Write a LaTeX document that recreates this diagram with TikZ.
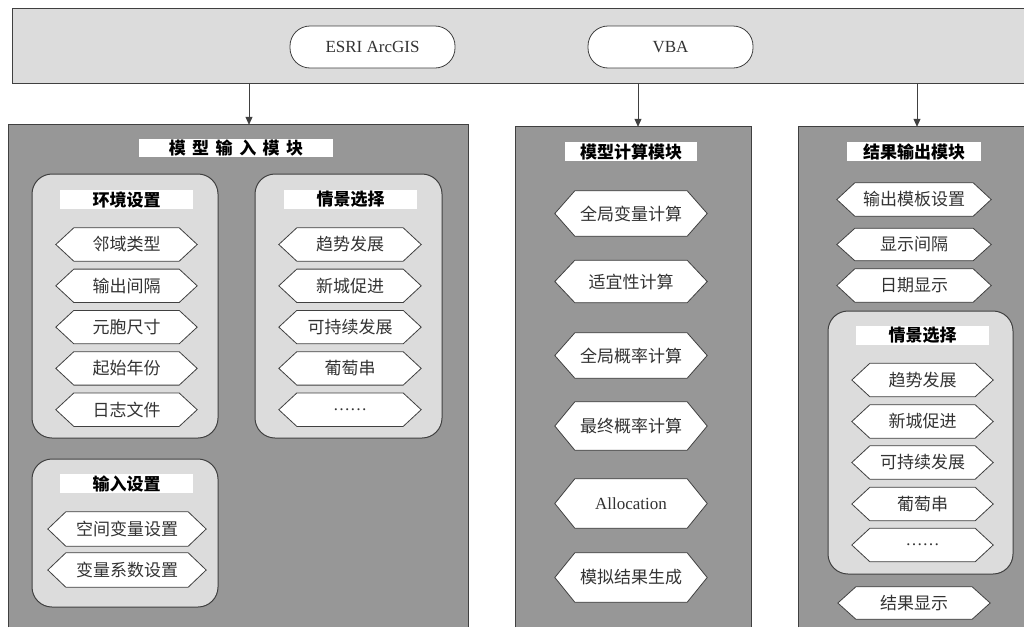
\documentclass[tikz,border=0pt]{standalone}
\usepackage{fontspec}
\setmainfont{Liberation Serif}
\newfontfamily\cjk{Noto Sans CJK SC}
\usetikzlibrary{arrows.meta}
\pgfdeclarelayer{back}
\pgfdeclarelayer{mid}
\pgfsetlayers{back,mid,main}
\definecolor{lightbg}{HTML}{DCDCDC}
\definecolor{panelbg}{HTML}{979797}
\definecolor{edge}{HTML}{404040}
\definecolor{txt}{HTML}{333333}
\tikzset{
 topbar/.style={fill=lightbg, inner sep=0},
 pill/.style={draw=edge, fill=white, rounded corners=20pt, line width=0.8pt, inner sep=0, minimum width=165pt, minimum height=42pt, font=\fontsize{17}{20}\selectfont, text=txt},
 panel/.style={fill=panelbg, inner sep=0},
 border/.style={draw=edge, line width=1pt},
 group/.style={draw=edge, fill=lightbg, rounded corners=20pt, line width=1pt, inner sep=0},
 title/.style={fill=white, inner sep=0, font=\cjk\bfseries\fontsize{17}{20}\selectfont, text=black},
 hextext/.style={inner sep=0, text=txt, font=\cjk\fontsize{17}{20}\selectfont},
 hexline/.style={draw=edge, fill=white, line width=0.8pt},
 arr/.style={draw=edge, line width=0.8pt, -{Triangle[length=8pt,width=7pt]}},
}
\newcommand\hexnode[7]{%
 \node[hextext, minimum width=#4pt, minimum height=#5pt] (#1) at (#2,#3) {#7};
 \begin{pgfonlayer}{mid}
 \path[hexline] (#1.north west) -- (#1.north east) -- ([xshift=#6pt]#1.east) -- (#1.south east) -- (#1.south west) -- ([xshift=-#6pt]#1.west) -- cycle;
 \end{pgfonlayer}}
\newcommand\lat[1]{{\rmfamily #1}}
\begin{document}
\begin{tikzpicture}[x=1pt,y=-1pt]
\useasboundingbox (0,0) rectangle (1024,627);
\begin{pgfonlayer}{back}
 \node[topbar, minimum width=1011pt, minimum height=74pt] (topbar) at (518.5,46) {};
 \path[border] (topbar.south east) -- (topbar.south west) -- (topbar.north west) -- (topbar.north east);
 \node[panel, minimum width=459pt, minimum height=502pt] (inpanel) at (238.5,376) {};
 \path[border] (inpanel.south west) -- (inpanel.north west) -- (inpanel.north east) -- (inpanel.south east);
 \node[panel, minimum width=235pt, minimum height=500pt] (calcpanel) at (633.5,377) {};
 \path[border] (calcpanel.south west) -- (calcpanel.north west) -- (calcpanel.north east) -- (calcpanel.south east);
 \node[panel, minimum width=225pt, minimum height=500pt] (outpanel) at (911.5,377) {};
 \path[border] (outpanel.south west) -- (outpanel.north west) -- (outpanel.north east);
 \node[group, minimum width=186pt, minimum height=264pt] (envgrp) at (125,306) {};
 \node[group, minimum width=187pt, minimum height=264pt] (scenLgrp) at (348.5,306) {};
 \node[group, minimum width=186pt, minimum height=148pt] (inpgrp) at (125,533) {};
 \node[group, minimum width=185pt, minimum height=263pt] (scenRgrp) at (920.5,442.5) {};
\end{pgfonlayer}

\node[pill] (esri) at (372.5,47) {ESRI ArcGIS};
\node[pill] (vba) at (670.5,47) {VBA};

\coordinate (a1x) at (249,0);
\coordinate (a2x) at (638,0);
\coordinate (a3x) at (917,0);
\draw[arr] (a1x |- topbar.south) -- (a1x |- inpanel.north);
\draw[arr] (a2x |- topbar.south) -- (a2x |- calcpanel.north);
\draw[arr] (a3x |- topbar.south) -- (a3x |- outpanel.north);

% titles
\node[title, minimum width=194pt, minimum height=18pt] (t1) at (236,148) {模\hspace{6.5pt}型\hspace{6.5pt}输\hspace{6.5pt}入\hspace{6.5pt}模\hspace{6.5pt}块};
\node[title, minimum width=133pt, minimum height=19pt] (t2) at (126.5,199.5) {环境设置};
\node[title, minimum width=133pt, minimum height=19pt] (t3) at (350.5,199.5) {情景选择};
\node[title, minimum width=133pt, minimum height=19pt] (t4) at (126.5,483.5) {输入设置};
\node[title, minimum width=132pt, minimum height=19pt] (t5) at (631,151.5) {模型计算模块};
\node[title, minimum width=134pt, minimum height=19pt] (t6) at (914,151.5) {结果输出模块};
\node[title, minimum width=133pt, minimum height=19pt] (t7) at (922.5,335.5) {情景选择};

% left env group
\hexnode{e1}{126.5}{244.5}{105}{33}{18}{邻域类型}
\hexnode{e2}{126.5}{285.8}{105}{33}{18}{输出间隔}
\hexnode{e3}{126.5}{327.1}{105}{33}{18}{元胞尺寸}
\hexnode{e4}{126.5}{368.4}{105}{33}{18}{起始年份}
\hexnode{e5}{126.5}{409.7}{105}{33}{18}{日志文件}
% left scenario group
\hexnode{s1}{350}{244.5}{106}{33}{18}{趋势发展}
\hexnode{s2}{350}{285.8}{106}{33}{18}{新城促进}
\hexnode{s3}{350}{327.1}{106}{33}{18}{可持续发展}
\hexnode{s4}{350}{368.4}{106}{33}{18}{葡萄串}
\hexnode{s5}{350}{409.7}{106}{33}{18}{\lat{……}}
% input group
\hexnode{i1}{127}{529}{122}{34}{18}{空间变量设置}
\hexnode{i2}{127}{570}{122}{34}{18}{变量系数设置}
% calc panel
\hexnode{c1}{631}{213.5}{112}{45}{20}{全局变量计算}
\hexnode{c2}{631}{281.5}{112}{42}{20}{适宜性计算}
\hexnode{c3}{631}{355.5}{112}{45}{20}{全局概率计算}
\hexnode{c4}{631}{426}{112}{48}{20}{最终概率计算}
\hexnode{c5}{631}{503.5}{112}{49}{20}{\lat{Allocation}}
\hexnode{c6}{631}{577.5}{112}{49}{20}{模拟结果生成}
% output panel
\hexnode{o1}{914}{199.5}{118}{33}{18}{输出模板设置}
\hexnode{o2}{914}{244.5}{118}{32}{18}{显示间隔}
\hexnode{o3}{914}{285.5}{118}{33}{18}{日期显示}
\hexnode{r1}{922.5}{380}{105}{33}{18}{趋势发展}
\hexnode{r2}{922.5}{421.5}{105}{33}{18}{新城促进}
\hexnode{r3}{922.5}{462.5}{105}{33}{18}{可持续发展}
\hexnode{r4}{922.5}{504}{105}{33}{18}{葡萄串}
\hexnode{r5}{922.5}{545}{105}{33}{18}{\lat{……}}
\hexnode{o4}{914}{603}{116}{32}{18}{结果显示}
\end{tikzpicture}
\end{document}
